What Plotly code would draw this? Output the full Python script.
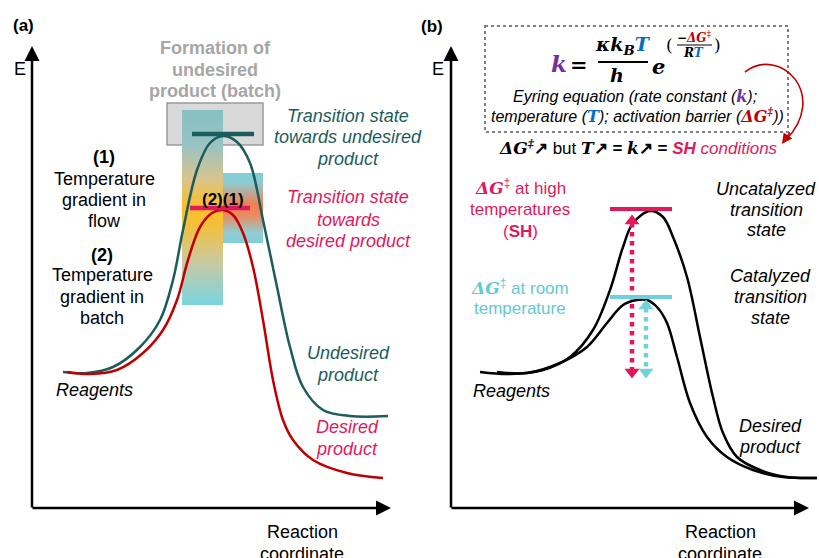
import plotly.graph_objects as go

# ---------------- data (pixel-space diagram coordinates) ----------------
# Panel (a) energy profiles
undesired_x = [63, 87, 113, 140, 160, 173, 183, 197, 210, 223, 237, 250, 263, 277, 290, 303, 323, 350, 388]
undesired_y = [372, 373, 367, 347, 320, 280, 230, 170, 143, 136, 142, 163, 220, 287, 347, 387, 410, 416, 416]
desired_x = [67, 90, 117, 143, 163, 177, 188, 200, 212, 222, 233, 243, 253, 263, 273, 283, 293, 313, 347, 383]
desired_y = [372, 374, 370, 353, 330, 300, 260, 227, 213, 210, 215, 233, 267, 320, 380, 420, 440, 460, 473, 478]

# Panel (b) energy profiles
uncat_x = [480, 510, 543, 570, 593, 610, 623, 633, 650, 663, 673, 687, 700, 713, 723, 737, 760, 787, 817]
uncat_y = [372, 374, 370, 357, 330, 290, 247, 223, 211, 217, 237, 277, 337, 397, 433, 457, 470, 477, 478]
cat_x = [497, 527, 560, 587, 607, 623, 637, 647, 657, 667, 677, 690, 707, 727, 753, 783, 817]
cat_y = [372, 373, 363, 347, 323, 305, 300, 300, 307, 323, 357, 403, 437, 457, 470, 477, 478]

TEAL = "#1b5c5c"
RED = "#c00000"
MAGENTA = "#e0195c"
CYAN = "#70d0dc"
CYAN_TXT = "#62c9d5"
GREY_TXT = "#a6a6a6"
PURPLE = "#7030a0"
BLUE = "#0070c0"
SANS = "Liberation Sans"
SERIF = "DejaVu Serif"

fig = go.Figure()

# grey box (formation of undesired product)
fig.add_shape(type="rect", x0=167, x1=263, y0=103, y1=145, xref="x", yref="y",
              fillcolor="#d9d9d9", line=dict(color="#9a9a9a", width=1.5), layer="below")

# gradient bars
def grad_bar(x0, x1, y0, y1, cs):
    fig.add_trace(go.Scatter(x=[x0, x1, x1, x0, x0], y=[y0, y0, y1, y1, y0], mode="lines",
                             fill="toself", line=dict(width=0),
                             fillgradient=dict(type="vertical", colorscale=cs, start=y0, stop=y1),
                             hoverinfo="skip"))

grad_bar(182, 223, 110, 305, [[0, "#86c0c4"], [0.18, "#98c3c2"], [0.35, "#d8c48f"], [0.5, "#fcbf26"],
                              [0.6, "#f2c03e"], [0.78, "#c9c9a2"], [1, "#79d5df"]])
grad_bar(223, 263, 173, 243, [[0, "#7dd0da"], [0.15, "#92c9cd"], [0.45, "#ef8150"], [0.6, "#eb8a5e"],
                              [0.85, "#93cbd0"], [1, "#7dd0da"]])

# curves
for xs, ys, c in [(undesired_x, undesired_y, TEAL), (desired_x, desired_y, RED),
                  (uncat_x, uncat_y, "black"), (cat_x, cat_y, "black")]:
    fig.add_trace(go.Scatter(x=xs, y=ys, mode="lines", line=dict(color=c, width=2.5, shape="spline", smoothing=1.0),
                             hoverinfo="skip"))

# transition-state bars
fig.add_shape(type="line", x0=192, x1=254, y0=134, y1=134, line=dict(color=TEAL, width=4.5))
fig.add_shape(type="line", x0=190, x1=250, y0=208, y1=208, line=dict(color=MAGENTA, width=4.5))
fig.add_shape(type="line", x0=610, x1=672, y0=209, y1=209, line=dict(color=MAGENTA, width=4))
fig.add_shape(type="line", x0=610, x1=672, y0=297, y1=297, line=dict(color=CYAN, width=4))

# dotted double arrows (panel b)
for x, ytop, ybot, c in [(632, 215, 378, MAGENTA), (646, 300, 378, CYAN)]:
    fig.add_trace(go.Scatter(x=[x, x], y=[ytop + 8, ybot - 8], mode="lines",
                             line=dict(color=c, width=4.5, dash="dot"), hoverinfo="skip"))
    fig.add_trace(go.Scatter(x=[x, x], y=[ytop + 6, ybot - 6], mode="markers",
                             marker=dict(symbol=["triangle-up", "triangle-down"], size=13, color=c),
                             hoverinfo="skip"))

# dotted equation box
fig.add_shape(type="rect", x0=485, x1=788, y0=26, y1=132, line=dict(color="#808080", width=2, dash="dot"))

# curved red arrow
fig.add_shape(type="path", path="M 745 72 C 780 45, 830 95, 785 141", line=dict(color=RED, width=1.6))

ann = []

def arrow(x, y, ax, ay, color="black", width=2.5, head=2, size=1.2):
    ann.append(dict(x=x, y=y, ax=ax, ay=ay, xref="x", yref="y", axref="x", ayref="y", text="",
                    showarrow=True, arrowhead=head, arrowsize=size, arrowwidth=width, arrowcolor=color,
                    standoff=0, startstandoff=0))

# axes
arrow(32, 46, 32, 509)
arrow(391, 508, 31, 508)
arrow(451, 46, 451, 509)
arrow(809, 508, 450, 508)
arrow(782, 144, 791, 131, color=RED, width=1.6, head=2, size=1.3)

def txt(x, y, s, size=18, color="black", family=SANS, xanchor="center"):
    ann.append(dict(x=x, y=y, xref="x", yref="y", text=s, showarrow=False, xanchor=xanchor, yanchor="middle",
                    font=dict(size=size, color=color, family=family)))

def lines(x, ys, strs, **kw):
    for y, s in zip(ys, strs):
        txt(x, y, s, **kw)

# ---- panel (a) text
txt(23, 25, "<b>(a)</b>", size=17)
txt(20, 69, "E", size=18)
lines(215, [48, 70, 91], ["<b>Formation of</b>", "<b>undesired</b>", "<b>product (batch)</b>"], color=GREY_TXT)
lines(348, [116, 137, 159], ["<i>Transition state</i>", "<i>towards undesired</i>", "<i>product</i>"], color=TEAL)
lines(348, [197, 220, 241], ["<i>Transition state</i>", "<i>towards</i>", "<i>desired product</i>"], color=MAGENTA)
lines(104, [157, 179, 200, 221], ["<b>(1)</b>", "Temperature", "gradient in", "flow"])
lines(102, [255, 275, 297, 318], ["<b>(2)</b>", "Temperature", "gradient in", "batch"])
txt(223, 199, "<b>(2)(1)</b>", size=17)
lines(348, [353, 375], ["<i>Undesired</i>", "<i>product</i>"], color=TEAL)
lines(347, [427, 449], ["<i>Desired</i>", "<i>product</i>"], color=MAGENTA)
txt(94, 390, "<i>Reagents</i>")
lines(302, [532, 554], ["Reaction", "coordinate"])

# ---- panel (b) text
txt(432, 26, "<b>(b)</b>", size=17)
txt(438, 69, "E", size=18)

SERB = "font-family:DejaVu Serif;font-weight:bold;font-style:italic"
# equation
txt(559, 63, "<b><i>k</i></b>", size=23, color=PURPLE, family=SERIF)
txt(579, 64, "<b>=</b>", size=21, family=SERIF)
txt(623, 45, "<b><i>κk<sub>B</sub><span style='color:%s'>T</span></i></b>" % BLUE, size=19, family=SERIF)
fig.add_shape(type="line", x0=598, x1=648, y0=62, y1=62, line=dict(color="black", width=2))
txt(617, 75, "<b><i>h</i></b>", size=19, family=SERIF)
txt(658, 66, "<b><i>e</i></b>", size=21, family=SERIF)
txt(669, 45, "(", size=17, family=SERIF)
txt(717, 45, ")", size=17, family=SERIF)
txt(694, 37, "<b><i>−<span style='color:%s'>ΔG</span></i></b><span style='color:%s'><sup>‡</sup></span>" % (RED, RED),
    size=12, family=SERIF)
fig.add_shape(type="line", x0=677, x1=712, y0=45, y1=45, line=dict(color="black", width=1))
txt(693, 53, "<b><i>R<span style='color:%s'>T</span></i></b>" % BLUE, size=12, family=SERIF)

txt(635, 96, "<i>Eyring equation (rate constant (</i><span style='%s;color:%s'>k</span><i>);</i>" % (SERB, PURPLE),
    size=16)
txt(637, 115, "<i>temperature (</i><span style='%s;color:%s'>T</span><i>); activation barrier (</i>"
              "<span style='%s;color:%s'>ΔG<sup>‡</sup></span><i>))</i>" % (SERB, BLUE, SERB, RED), size=16)
txt(638, 147, "<span style='%s'>ΔG<sup>‡</sup></span><b>↗</b> but <span style='%s'>T</span><b>↗ = </b>"
              "<span style='%s'>k</span><b>↗ = </b><span style='color:%s'><b><i>SH</i></b><i> conditions</i></span>"
    % (SERB, SERB, SERB, MAGENTA), size=17)

lines(520, [187, 209, 231], ["<span style='%s'>ΔG</span><sup>‡</sup> at high" % SERB, "temperatures",
                             "(<b>SH</b>)"], color=MAGENTA, size=17)
lines(520, [287, 308], ["<span style='%s'>ΔG</span><sup>‡</sup> at room" % SERB, "temperature"],
      color=CYAN_TXT, size=17)
lines(766, [189, 210, 230], ["<i>Uncatalyzed</i>", "<i>transition</i>", "<i>state</i>"])
lines(770, [276, 297, 318], ["<i>Catalyzed</i>", "<i>transition</i>", "<i>state</i>"])
txt(511, 391, "<i>Reagents</i>")
lines(770, [426, 447], ["<i>Desired</i>", "<i>product</i>"])
lines(720, [532, 554], ["Reaction", "coordinate"])

fig.update_layout(width=819, height=558, margin=dict(l=0, r=0, t=0, b=0),
                  paper_bgcolor="white", plot_bgcolor="white", showlegend=False,
                  xaxis=dict(range=[0, 819], visible=False, fixedrange=True),
                  yaxis=dict(range=[558, 0], visible=False, fixedrange=True),
                  annotations=ann)

fig.write_html("out.html", config={"displayModeBar": False},
               post_script="document.body.style.margin='0px';document.body.style.overflow='hidden';")
